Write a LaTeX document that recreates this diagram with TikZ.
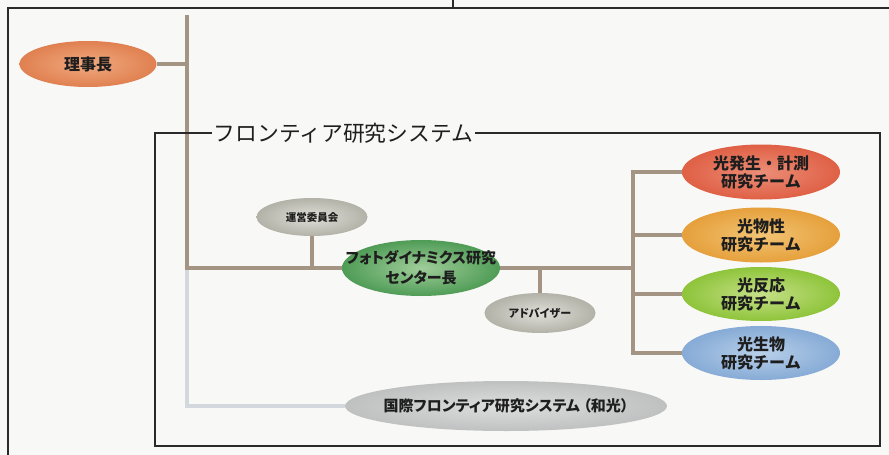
\documentclass[tikz,border=0pt]{standalone}
\usepackage{fontspec}
\newfontfamily\jp{Noto Sans CJK JP}
\newfontfamily\jpp{Noto Sans CJK JP}[RawFeature=+palt]
\usetikzlibrary{shapes.geometric}
\definecolor{bgc}{HTML}{F8F8F6}
\definecolor{connc}{HTML}{A39484}
\definecolor{connl}{HTML}{D2D8DE}
\definecolor{framec}{HTML}{2A2A2A}
\definecolor{txt}{HTML}{1E1E1E}
\definecolor{rjO}{HTML}{E08050}\definecolor{rjI}{HTML}{F0AA80}
\definecolor{t1O}{HTML}{DF6045}\definecolor{t1I}{HTML}{EC8E78}
\definecolor{t2O}{HTML}{E6A03C}\definecolor{t2I}{HTML}{F2C474}
\definecolor{t3O}{HTML}{8EC43A}\definecolor{t3I}{HTML}{C6E088}
\definecolor{t4O}{HTML}{86ABD6}\definecolor{t4I}{HTML}{B8CFE9}
\definecolor{ceO}{HTML}{4F9C56}\definecolor{ceI}{HTML}{A0CD9A}
\definecolor{grO}{HTML}{B3B2A8}\definecolor{grI}{HTML}{E0DFD9}
\definecolor{kkO}{HTML}{BEC1C0}\definecolor{kkI}{HTML}{DDDFDE}
\tikzset{
  oval/.style={ellipse, inner sep=0pt, draw=none},
  ovtext/.style={font=#1, align=center, text=txt, inner sep=0pt},
  conn/.style={draw=connc, line width=3.5pt},
  connlt/.style={draw=connl, line width=3.5pt},
  frameline/.style={draw=framec, line width=1.1pt},
}
\begin{document}
\begin{tikzpicture}[x=1pt,y=-1pt]
\fill[bgc] (0,0) rectangle (889,455);
\useasboundingbox (0,0) rectangle (889,455);

% outer frame
\draw[framec, line width=1.4pt] (8,455) -- (8,8) -- (889,8);
\draw[framec, line width=1.4pt] (453,0) -- (453,8);

% nodes
\node[oval, shade, inner color=rjI, outer color=rjO, minimum width=137pt, minimum height=46pt,
  label={[ovtext=\jp\bfseries\fontsize{16}{18}\selectfont]center:理事長}] (rijicho) at (88,64) {};
\node[oval, shade, inner color=grI, outer color=grO, minimum width=111pt, minimum height=38pt,
  label={[ovtext=\jp\bfseries\fontsize{10.5}{12}\selectfont]center:運営委員会}] (unei) at (312,217) {};
\node[oval, shade, inner color=ceI, outer color=ceO, minimum width=158pt, minimum height=56pt,
  label={[ovtext=\jpp\bfseries\fontsize{15}{20}\selectfont]center:フォトダイナミクス研究\\センター長}] (center) at (421,268) {};
\node[oval, shade, inner color=grI, outer color=grO, minimum width=111pt, minimum height=40pt,
  label={[ovtext=\jpp\bfseries\fontsize{11}{12}\selectfont]center:アドバイザー}] (adv) at (540,313) {};
\node[oval, shade, inner color=t1I, outer color=t1O, minimum width=158pt, minimum height=55pt,
  label={[ovtext=\jp\bfseries\fontsize{16}{18}\selectfont]center:光発生・計測\\研究チーム}] (team1) at (761,172) {};
\node[oval, shade, inner color=t2I, outer color=t2O, minimum width=158pt, minimum height=55pt,
  label={[ovtext=\jp\bfseries\fontsize{16}{18}\selectfont]center:光物性\\研究チーム}] (team2) at (761,235) {};
\node[oval, shade, inner color=t3I, outer color=t3O, minimum width=158pt, minimum height=54pt,
  label={[ovtext=\jp\bfseries\fontsize{16}{18}\selectfont]center:光反応\\研究チーム}] (team3) at (761,294) {};
\node[oval, shade, inner color=t4I, outer color=t4O, minimum width=158pt, minimum height=54pt,
  label={[ovtext=\jp\bfseries\fontsize{16}{18}\selectfont]center:光生物\\研究チーム}] (team4) at (761,353) {};
\node[oval, shade, inner color=kkI, outer color=kkO, minimum width=322pt, minimum height=50pt,
  label={[ovtext=\jpp\bfseries\fontsize{15}{16}\selectfont]center:国際フロンティア研究システム （和光）}] (kokusai) at (506,406) {};

% trunk coordinates
\coordinate (ttop) at (187,15);
\coordinate (tj1) at (187,64);
\coordinate (tj2) at (187,268);
\coordinate (tbot) at (187,406);
\coordinate (uj) at (312,268);
\coordinate (aj) at (540,268);
\coordinate (rtop) at (633,172);
\coordinate (rmid) at (633,268);
\coordinate (r2) at (633,235);
\coordinate (r3) at (633,294);
\coordinate (rbot) at (633,353);

% connectors
\draw[connlt] (tj2) -- (tbot) -- (kokusai.west);
\draw[conn] (ttop) -- ([yshift=-1.75pt]tj2);
\draw[conn] (rijicho.east) -- (tj1);
\draw[conn] (tj2) -- (center.west);
\draw[conn] (unei.south) -- (uj);
\draw[conn] (center.east) -- (rmid);
\draw[conn] (aj) -- (adv.north);
\draw[conn] ([yshift=1.75pt]rtop) -- ([yshift=-1.75pt]rbot);
\draw[conn] (rtop) -- (team1.west);
\draw[conn] (r2) -- (team2.west);
\draw[conn] (r3) -- (team3.west);
\draw[conn] (rbot) -- (team4.west);

% inner frame with label
\node[anchor=west, inner sep=1.5pt, font=\jp\fontsize{21.8}{22}\selectfont, text=txt] (flabel) at (212,133) {フロンティア研究システム};
\draw[frameline] (flabel.west) -- (155,133) -- (155,446) -- (880,446) -- (880,133) -- (flabel.east);
\end{tikzpicture}
\end{document}
